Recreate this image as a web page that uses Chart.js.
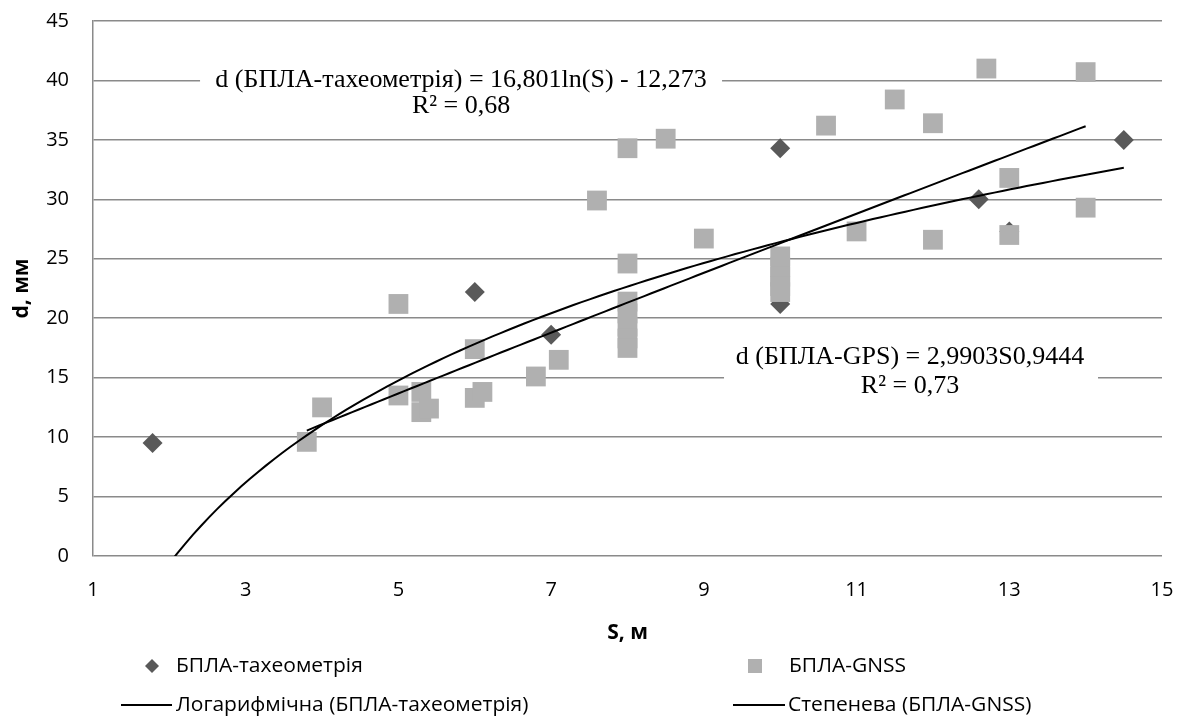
<!DOCTYPE html>
<html>
<head>
<meta charset="utf-8">
<script src="https://cdn.jsdelivr.net/npm/chart.js@4"></script>
<style>
  html, body { margin: 0; padding: 0; background: #fff; }
  #wrap { width: 1184px; height: 727px; position: relative; }
</style>
</head>
<body>
<div id="wrap"><canvas id="chart"></canvas></div>
<script>
// БПЛА-тахеометрія
const taxS = [1.78, 6, 7, 10, 10, 12.6, 13, 14.5];
const taxD = [9.5, 22.2, 18.6, 34.3, 21.2, 30.0, 27.3, 35.0];

// БПЛА-GNSS
const gnssS = [3.8, 4, 5, 5, 5.3, 5.3, 5.4, 6, 6, 6.1, 6.8, 7.1, 7.6, 8, 8, 8, 8, 8, 8, 8, 8.5, 9,
  10, 10, 10, 10, 10, 10.6, 11, 11.5, 12, 12, 12.7, 13, 13, 14, 14];
const gnssD = [9.6, 12.5, 21.2, 13.5, 13.8, 12.1, 12.4, 17.4, 13.3, 13.8, 15.1, 16.5, 29.9, 34.3, 24.6,
  21.4, 20.4, 19.3, 18.3, 17.5, 35.1, 26.7, 25.2, 24.3, 23.5, 22.7, 22.2, 36.2, 27.3, 38.4, 36.4,
  26.6, 41.0, 31.8, 27.0, 40.7, 29.3];

// trend line coefficients as printed on the chart
const logCoef = [16.801, -12.273];   // a*ln(S) + b
const powCoef = [2.9903, 0.9444];    // a*S^b

const legendLabels = ["БПЛА-тахеометрія", "БПЛА-GNSS",
  "Логарифмічна (БПЛА-тахеометрія)", "Степенева (БПЛА-GNSS)"];
const eqTax = ["d (БПЛА-тахеометрія) = 16,801ln(S) - 12,273", "R² = 0,68"];
const eqGnss = ["d (БПЛА-GPS) = 2,9903S0,9444", "R² = 0,73"];

const tickFont = "'Open Sans', sans-serif";
const serifFont = "'Liberation Serif', 'Times New Roman', serif";

function toPoints(xs, ys) {
  return xs.map((x, i) => ({ x: x, y: ys[i] }));
}

function trendPoints(xs, fn) {
  const lo = Math.min(...xs), hi = Math.max(...xs);
  const pts = [];
  const n = 120;
  for (let i = 0; i <= n; i++) {
    const s = lo + (hi - lo) * i / n;
    pts.push({ x: s, y: fn(s) });
  }
  return pts;
}

const logLine = trendPoints(taxS, s => logCoef[0] * Math.log(s) + logCoef[1]);
const powLine = trendPoints(gnssS, s => powCoef[0] * Math.pow(s, powCoef[1]));

// text stretched a little horizontally, like the wide Calibri in the original
function wideText(ctx, text, x, y, sx) {
  ctx.save();
  ctx.translate(x, y);
  ctx.scale(sx, 1);
  ctx.fillText(text, 0, 0);
  ctx.restore();
}

const labelsPlugin = {
  id: "labelsPlugin",
  afterDraw(chart) {
    const ctx = chart.ctx;
    const xs = chart.scales.x, ys = chart.scales.y;
    ctx.save();

    // equation boxes (white background hides the gridline behind the text)
    function eqBox(lines, cx, cy1, cy2, left, width) {
      const px = xs.getPixelForValue(cx);
      const py1 = ys.getPixelForValue(cy1);
      const py2 = ys.getPixelForValue(cy2);
      ctx.fillStyle = "#fff";
      ctx.fillRect(px - left, py1 - 16, width, py2 - py1 + 32);
      ctx.fillStyle = "#000";
      ctx.font = "26px " + serifFont;
      ctx.textAlign = "center";
      ctx.textBaseline = "middle";
      ctx.fillText(lines[0], px, py1);
      ctx.fillText(lines[1], px, py2);
    }
    eqBox(eqTax, 5.82, 40.0, 37.8, 261, 522);
    eqBox(eqGnss, 11.7, 16.7, 14.3, 186, 374);

    // legend
    ctx.font = "20px " + tickFont;
    ctx.textAlign = "left";
    ctx.textBaseline = "middle";
    const row1 = 666, row2 = 705;
    ctx.fillStyle = "#595959";
    Chart.helpers.drawPoint(ctx, { pointStyle: "rectRot", radius: 7, rotation: 0, borderWidth: 0 }, 152, row1);
    ctx.fillStyle = "#b0b0b0";
    ctx.fillRect(748, row1 - 7, 14, 14);
    ctx.strokeStyle = "#000";
    ctx.lineWidth = 2;
    ctx.beginPath();
    ctx.moveTo(121, row2); ctx.lineTo(172, row2);
    ctx.moveTo(733, row2); ctx.lineTo(785, row2);
    ctx.stroke();
    ctx.fillStyle = "#000";
    wideText(ctx, legendLabels[0], 176, row1, 1.05);
    wideText(ctx, legendLabels[1], 789, row1, 1.05);
    wideText(ctx, legendLabels[2], 176, row2, 1.05);
    wideText(ctx, legendLabels[3], 788, row2, 1.05);
    ctx.restore();
  }
};

const ctx = document.getElementById("chart").getContext("2d");
new Chart(ctx, {
  type: "scatter",
  data: {
    datasets: [
      {
        label: legendLabels[2],
        data: logLine,
        showLine: true,
        borderColor: "#000",
        borderWidth: 2,
        pointRadius: 0,
        clip: 0,
        order: 0,
      },
      {
        label: legendLabels[3],
        data: powLine,
        showLine: true,
        borderColor: "#000",
        borderWidth: 2,
        pointRadius: 0,
        clip: 0,
        order: 0,
      },
      {
        label: legendLabels[1],
        data: toPoints(gnssS, gnssD),
        pointStyle: "rect",
        pointRadius: 14,
        backgroundColor: "#b0b0b0",
        borderColor: "#b0b0b0",
        borderWidth: 0,
        order: 1,
      },
      {
        label: legendLabels[0],
        data: toPoints(taxS, taxD),
        pointStyle: "rectRot",
        pointRadius: 10,
        backgroundColor: "#595959",
        borderColor: "#595959",
        borderWidth: 0,
        order: 2,
      },
    ],
  },
  options: {
    responsive: true,
    maintainAspectRatio: false,
    animation: false,
    layout: { autoPadding: false, padding: { top: 21, right: 22, bottom: 71, left: 0 } },
    plugins: {
      legend: { display: false },
      tooltip: { enabled: false },
    },
    scales: {
      x: {
        type: "linear",
        min: 1,
        max: 15,
        ticks: {
          stepSize: 2,
          padding: 22,
          color: "#000",
          font: { family: tickFont, size: 20 },
        },
        grid: { display: false, drawTicks: false },
        border: { display: false },
        title: {
          display: true,
          text: "S, м",
          color: "#000",
          font: { family: tickFont, size: 21, weight: "bold" },
          padding: { top: 0, bottom: 10 },
        },
        afterFit(scale) {
          scale.height = 100;
          scale.paddingLeft = 0;
          scale.paddingRight = 0;
        },
      },
      y: {
        min: 0,
        max: 45,
        ticks: {
          stepSize: 5,
          padding: 24,
          color: "#000",
          font: { family: tickFont, size: 20 },
        },
        grid: { color: "#8a8a8a", lineWidth: 1.5, drawTicks: false },
        border: { display: true, color: "#8a8a8a", width: 1.5 },
        title: {
          display: true,
          text: "d, мм",
          color: "#000",
          font: { family: tickFont, size: 21, weight: "bold" },
          padding: { top: 9, bottom: 0 },
        },
        afterFit(scale) {
          scale.width = 93;
          scale.paddingTop = 0;
          scale.paddingBottom = 0;
        },
      },
    },
  },
  plugins: [labelsPlugin],
});
</script>
</body>
</html>
